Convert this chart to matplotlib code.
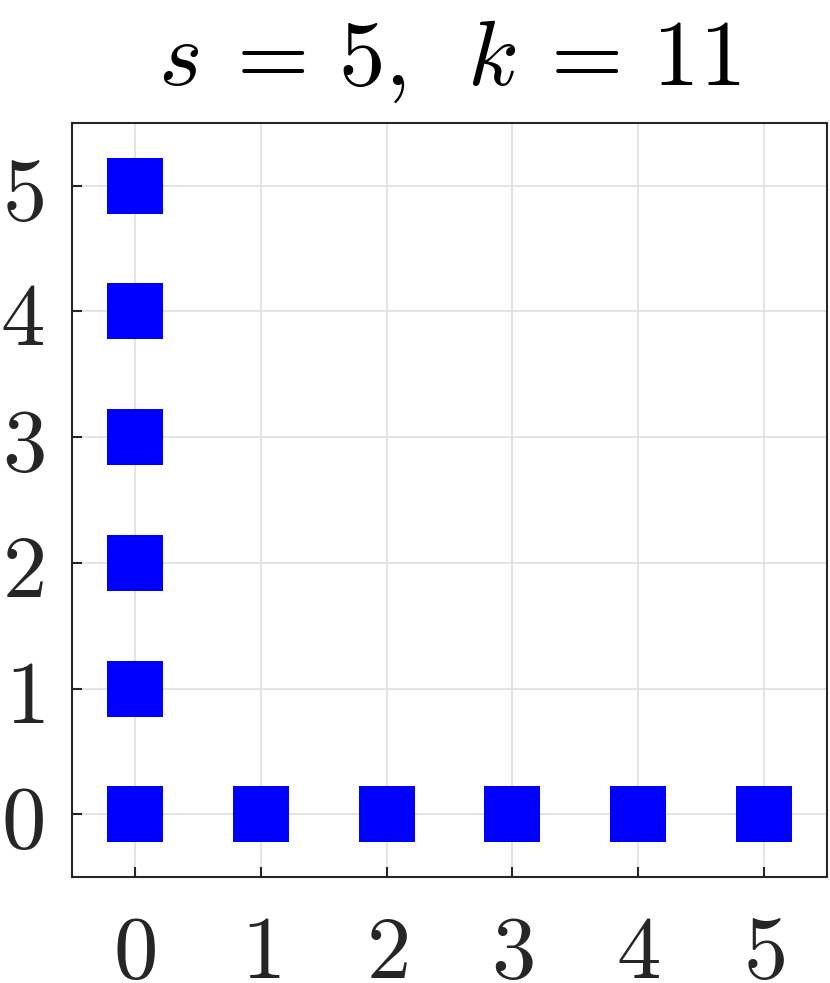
import matplotlib
matplotlib.use("Agg")
import matplotlib.pyplot as plt

plt.rcParams['mathtext.fontset'] = 'cm'

# points of the set (x, y)
xs = [0, 0, 0, 0, 0, 0, 1, 2, 3, 4, 5]
ys = [0, 1, 2, 3, 4, 5, 0, 0, 0, 0, 0]
ticks = [0, 1, 2, 3, 4, 5]
title = r'$s\:=\,5,\;\:k\:=\,11$'

fig = plt.figure(figsize=(8.3, 9.83), dpi=100)
ax = fig.add_axes([0.0867, 0.1078, 0.9097, 0.7671])

ax.plot(xs, ys, linestyle='none', marker='s', markersize=40,
        color=(0, 0, 1), markeredgewidth=0, zorder=3)

ax.set_xlim(-0.5, 5.5)
ax.set_ylim(-0.5, 5.5)
ax.set_xticks(ticks)
ax.set_yticks(ticks)
ax.set_xticklabels([f'${t}$' for t in ticks])
ax.set_yticklabels([f'${t}$' for t in ticks])
ax.tick_params(labelsize=64, colors='#262626', direction='in', length=7,
               width=1.5)
ax.tick_params(axis='x', pad=24)
ax.tick_params(axis='y', pad=20)
ax.grid(True, color='#dfdfdf', linewidth=1.2, zorder=0)
ax.set_axisbelow(True)
for sp in ax.spines.values():
    sp.set_color('#262626')
    sp.set_linewidth(1.5)

ax.set_title(title, fontsize=67, pad=27)

fig.savefig('out.png', dpi=100)
